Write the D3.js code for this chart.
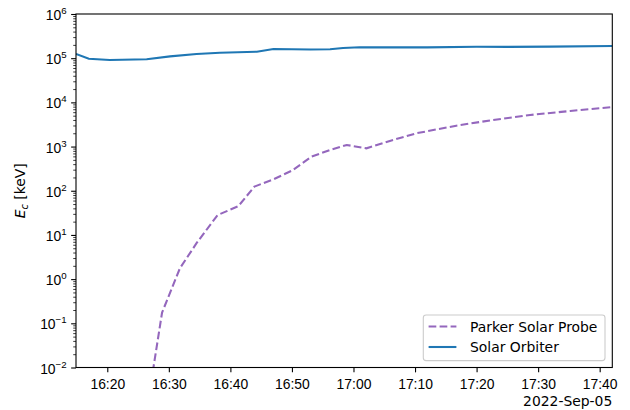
<!DOCTYPE html>
<html>
<head>
<meta charset="utf-8">
<script src="https://cdn.jsdelivr.net/npm/d3@7"></script>
<style>
  html, body { margin: 0; padding: 0; background: #fff; }
  svg { display: block; font-family: "DejaVu Sans", sans-serif; }
</style>
</head>
<body>
<svg id="chart" width="630" height="410"></svg>
<script>
// Cut-off energy E_c for two spacecraft, 2022-Sep-05 (UTC)
const parkerTimes = ["16:26:00","16:28:54","16:31:48","16:34:30","16:37:54","16:41:18","16:43:54",
  "16:47:00","16:50:00","16:53:12","16:56:12","16:58:54","17:02:06","17:05:54","17:10:12",
  "17:16:42","17:22:42","17:28:42","17:35:12","17:42:03"];
const parkerValues = [4.7e-4, 0.175, 1.76, 6.5, 28, 45, 124,
  182, 285, 592, 838, 1087, 912, 1340, 1995,
  2970, 4000, 5190, 6380, 7800];

const soloTimes = ["16:14:55","16:17:00","16:20:24","16:26:24","16:30:12","16:34:30","16:38:18",
  "16:44:18","16:47:00","16:50:00","16:53:00","16:56:12","16:58:18","17:01:00","17:05:00",
  "17:12:00","17:20:00","17:25:00","17:32:00","17:42:03"];
const soloValues = [1.245e5, 9.75e4, 9.1e4, 9.44e4, 1.10e5, 1.245e5, 1.33e5,
  1.40e5, 1.61e5, 1.59e5, 1.57e5, 1.59e5, 1.70e5, 1.77e5, 1.76e5,
  1.76e5, 1.82e5, 1.80e5, 1.83e5, 1.88e5];

const xDomainTimes = ["16:14:55", "17:42:03"];
const yDomain = [1e-2, 1e6];
const yExponents = [-2, -1, 0, 1, 2, 3, 4, 5, 6];
const seriesNames = ["Parker Solar Probe", "Solar Orbiter"];
const dateLabel = "2022-Sep-05";

const parseT = d3.utcParse("%Y-%m-%d %H:%M:%S");
const toDate = t => parseT("2022-09-05 " + t);

const plotLeft = 76, plotRight = 612.3, plotTop = 14, plotBottom = 367.5;
const fs = 13.9;
const majorLen = 4.86, minorLen = 2.78, tickW = 1.1;

const svg = d3.select("#chart");
svg.append("rect").attr("width", 630).attr("height", 410).attr("fill", "#fff");

const x = d3.scaleUtc().domain(xDomainTimes.map(toDate)).range([plotLeft, plotRight]);
const y = d3.scaleLog().domain(yDomain).range([plotBottom, plotTop]);

svg.append("defs").append("clipPath").attr("id", "plotclip")
  .append("rect").attr("x", plotLeft).attr("y", plotTop)
  .attr("width", plotRight - plotLeft).attr("height", plotBottom - plotTop);

// Lines
const line = d3.line().x(d => x(d[0])).y(d => y(d[1]));
const parker = parkerTimes.map((t, i) => [toDate(t), parkerValues[i]]);
const solo = soloTimes.map((t, i) => [toDate(t), soloValues[i]]);

const g = svg.append("g").attr("clip-path", "url(#plotclip)");
g.append("path").datum(parker).attr("d", line).attr("fill", "none")
  .attr("stroke", "#9467bd").attr("stroke-width", 2.08).attr("stroke-dasharray", "7.7,3.3");
g.append("path").datum(solo).attr("d", line).attr("fill", "none")
  .attr("stroke", "#1f77b4").attr("stroke-width", 2.08);

// X axis
const xAxis = d3.axisBottom(x).ticks(d3.utcMinute.every(10)).tickFormat(d3.utcFormat("%H:%M"))
  .tickSizeInner(majorLen).tickSizeOuter(0).tickPadding(4.86);
const gx = svg.append("g").attr("transform", `translate(0,${plotBottom})`).call(xAxis);
gx.select(".domain").remove();
gx.selectAll(".tick line").attr("stroke", "#000").attr("stroke-width", tickW);
gx.selectAll(".tick text").attr("fill", "#000").style("font-size", fs + "px")
  .attr("dy", null).attr("y", 21.3);

svg.append("text").attr("x", plotRight).attr("y", 406).attr("text-anchor", "end")
  .style("font-size", fs + "px").attr("fill", "#000").text(dateLabel);

// Y axis: major ticks with power-of-ten labels, minor ticks 2..9
const minorVals = [];
for (let e = yExponents[0]; e < yExponents[yExponents.length - 1]; e++) {
  for (let m = 2; m <= 9; m++) minorVals.push(m * Math.pow(10, e));
}
const yMinor = d3.axisLeft(y).tickValues(minorVals).tickFormat("").tickSizeInner(minorLen).tickSizeOuter(0);
const gym = svg.append("g").attr("transform", `translate(${plotLeft},0)`).call(yMinor);
gym.select(".domain").remove();
gym.selectAll(".tick line").attr("stroke", "#000").attr("stroke-width", tickW * 0.7);

const yMajor = d3.axisLeft(y).tickValues(yExponents.map(e => Math.pow(10, e))).tickFormat("")
  .tickSizeInner(majorLen).tickSizeOuter(0);
const gy = svg.append("g").attr("transform", `translate(${plotLeft},0)`).call(yMajor);
gy.select(".domain").remove();
gy.selectAll(".tick line").attr("stroke", "#000").attr("stroke-width", tickW);
gy.selectAll(".tick").each(function(d, i) {
  const e = yExponents[i];
  const t = d3.select(this).append("text")
    .attr("x", -(majorLen + 4.5)).attr("y", 5.6)
    .attr("text-anchor", "end").attr("fill", "#000").style("font-size", fs + "px");
  t.append("tspan").text("10");
  t.append("tspan").attr("dy", -6).style("font-size", "9.7px")
    .text(e < 0 ? "\u2212" + Math.abs(e) : String(e));
});

// Frame
svg.append("rect").attr("x", plotLeft).attr("y", plotTop)
  .attr("width", plotRight - plotLeft).attr("height", plotBottom - plotTop)
  .attr("fill", "none").attr("stroke", "#000").attr("stroke-width", 1.1);

// Y label
const yl = svg.append("text").attr("transform", `translate(25,${(plotTop + plotBottom) / 2}) rotate(-90)`)
  .attr("text-anchor", "middle").style("font-size", fs + "px").attr("fill", "#000");
yl.append("tspan").style("font-style", "italic").text("E");
yl.append("tspan").style("font-style", "italic").style("font-size", "9.7px").attr("dy", 3).text("c");
yl.append("tspan").attr("dy", -3).text(" [keV]");

// Legend
const lg = svg.append("g");
lg.append("rect").attr("x", 423.3).attr("y", 315).attr("width", 181.7).attr("height", 45.6)
  .attr("rx", 2.8).attr("fill", "#fff").attr("fill-opacity", 0.8)
  .attr("stroke", "#cccccc").attr("stroke-width", 1.1);
const legendItems = [
  { name: seriesNames[0], color: "#9467bd", dash: "7.7,3.3", yc: 326.5 },
  { name: seriesNames[1], color: "#1f77b4", dash: null, yc: 347.0 }
];
legendItems.forEach(it => {
  lg.append("line").attr("x1", 428.6).attr("x2", 456.4).attr("y1", it.yc).attr("y2", it.yc)
    .attr("stroke", it.color).attr("stroke-width", 2.08).attr("stroke-dasharray", it.dash);
  lg.append("text").attr("x", 470).attr("y", it.yc + 5.2).style("font-size", fs + "px")
    .attr("fill", "#000").text(it.name);
});
</script>
</body>
</html>
